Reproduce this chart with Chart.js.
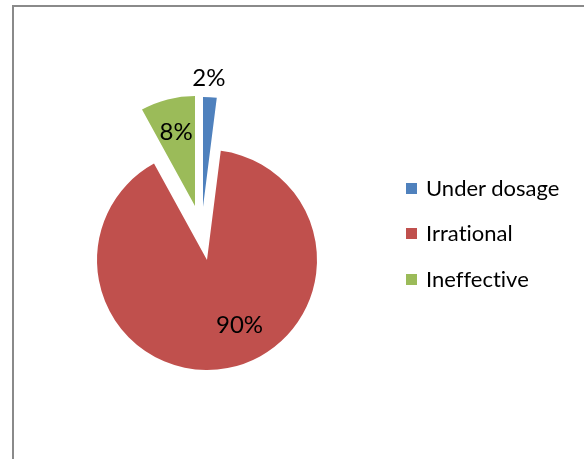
<!DOCTYPE html>
<html>
<head>
<meta charset="utf-8">
<script src="https://cdn.jsdelivr.net/npm/chart.js@4"></script>
<style>
  html, body { margin:0; padding:0; background:#fff; }
  body { width:584px; height:459px; position:relative; overflow:hidden; }
  #frame { position:absolute; left:12px; top:5px; width:640px; height:520px;
           border-left:2px solid #8a8a8a; border-top:2px solid #8a8a8a; box-sizing:border-box; }
  #c { position:absolute; left:0; top:0; }
  #legend { position:absolute; left:0; top:0; font-family:"Lato", "Liberation Sans", sans-serif; font-size:22px; color:#000;
            font-variant-ligatures:none; font-feature-settings:"liga" 0; }
  .item { position:absolute; left:406px; height:24px; line-height:24px; white-space:nowrap; }
  .sw { position:absolute; left:0; top:6px; width:11px; height:11px; }
  .tx { position:absolute; left:20px; top:-1px; }
</style>
</head>
<body>
<div id="frame"></div>
<canvas id="c" width="584" height="459"></canvas>
<div id="legend"></div>
<script>
// ---- data ----
const categories = ['Under dosage', 'Irrational', 'Ineffective'];
const percentValues = [2, 90, 8];
const sliceColors = ['#4F81BD', '#C0504D', '#9BBB59'];

// ---- style / layout (not data) ----
const explodeShifts = [[-4, -53], [0, 0], [-12, -54]];
const labelPlacement = [ { dist: 1.17, angle: -1 }, { dist: 0.66, angle: -15.8 }, { dist: 0.69, angle: 0 } ];
const legendRowsY = [188.5, 234, 279.5];

const explodePlugin = {
  id: 'explode',
  beforeDatasetDraw(chart, args) {
    const ctx = chart.ctx;
    args.meta.data.forEach((arc, i) => {
      const s = explodeShifts[i] || [0, 0];
      ctx.save();
      ctx.translate(s[0], s[1]);
      arc.draw(ctx);
      ctx.restore();
    });
    return false;
  },
  afterDatasetsDraw(chart) {
    const ctx = chart.ctx;
    const meta = chart.getDatasetMeta(0);
    const vals = chart.data.datasets[0].data;
    ctx.save();
    ctx.font = '24px "Lato", "Liberation Sans", sans-serif';
    ctx.fillStyle = '#000';
    ctx.textAlign = 'center';
    ctx.textBaseline = 'middle';
    meta.data.forEach((arc, i) => {
      const p = arc.getProps(['x', 'y', 'startAngle', 'endAngle', 'outerRadius'], true);
      const s = explodeShifts[i] || [0, 0];
      const lp = labelPlacement[i];
      const a = (p.startAngle + p.endAngle) / 2 + lp.angle * Math.PI / 180;
      const r = p.outerRadius * lp.dist;
      const x = p.x + s[0] + Math.cos(a) * r;
      const y = p.y + s[1] + Math.sin(a) * r;
      ctx.fillText(vals[i] + '%', x, y);
    });
    ctx.restore();
  }
};

const chart = new Chart(document.getElementById('c'), {
  type: 'pie',
  data: {
    labels: categories,
    datasets: [{ data: percentValues, backgroundColor: sliceColors, borderWidth: 0 }]
  },
  options: {
    responsive: false,
    animation: false,
    radius: 110,
    layout: { padding: { left: 0, right: 170, top: 61, bottom: 0 } },
    plugins: { legend: { display: false }, tooltip: { enabled: false } }
  },
  plugins: [explodePlugin]
});

// HTML legend built from the chart's own data
const legend = document.getElementById('legend');
chart.data.labels.forEach((lab, i) => {
  const item = document.createElement('div');
  item.className = 'item';
  item.style.top = (legendRowsY[i] - 12) + 'px';
  const sw = document.createElement('div');
  sw.className = 'sw';
  sw.style.background = chart.data.datasets[0].backgroundColor[i];
  const tx = document.createElement('div');
  tx.className = 'tx';
  tx.textContent = lab;
  item.appendChild(sw); item.appendChild(tx);
  legend.appendChild(item);
});
</script>
</body>
</html>
